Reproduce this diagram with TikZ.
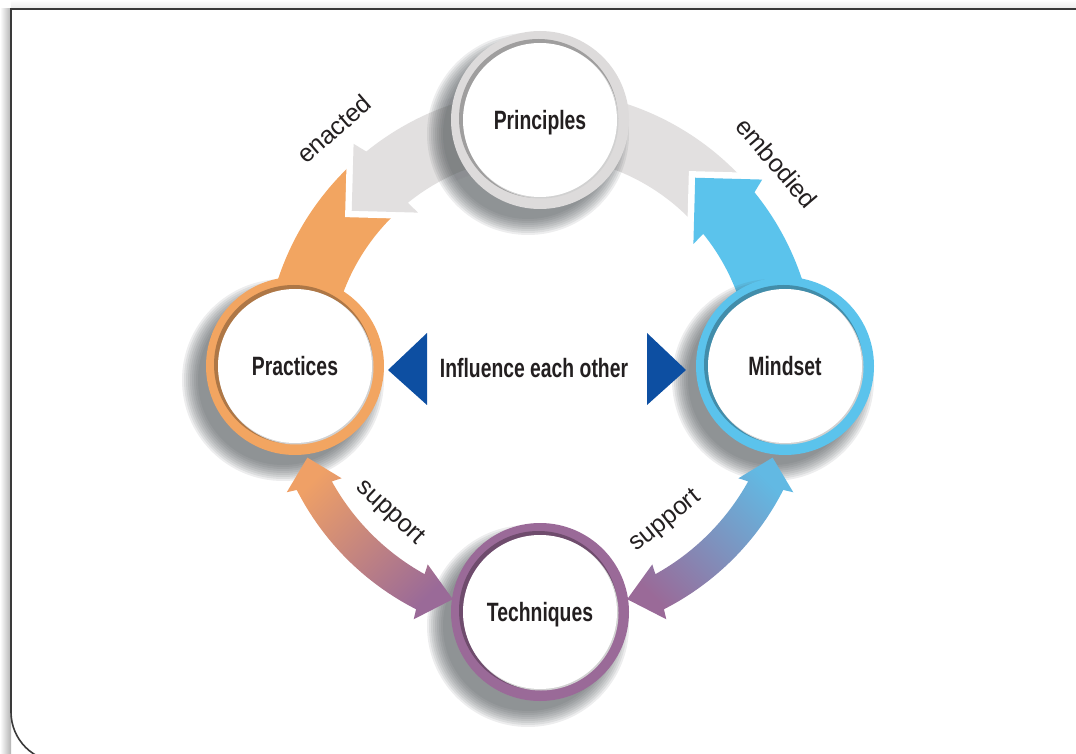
\documentclass[tikz,border=0pt]{standalone}
\usepackage{fontspec}
\newfontfamily\nodefont[FakeStretch=0.73]{Liberation Sans}
\newfontfamily\arcfont{Liberation Sans}

\definecolor{ringgrey}{HTML}{DDDBDB}
\definecolor{bandgrey}{HTML}{E2E0E0}
\definecolor{ringorange}{HTML}{F2A561}
\definecolor{ringblue}{HTML}{5BC3EC}
\definecolor{ringpurple}{HTML}{9A6A98}
\definecolor{supportorange}{HTML}{EFA066}
\definecolor{supportblue}{HTML}{62B9E3}
\definecolor{infblue}{HTML}{0D4FA2}
\definecolor{textdark}{HTML}{231F20}
\definecolor{shadowgrey}{HTML}{4A5054}
\definecolor{framegrey}{HTML}{3A3A3A}

\tikzset{
  ring/.style={circle, minimum size=178pt, inner sep=0pt, fill=#1,
    font=\nodefont\bfseries\fontsize{26.5}{30}\selectfont, text=textdark,
    text height=19pt, text depth=0pt,
    path picture={
      \fill[#1!72!black] ([shift={(-1.5pt,1.5pt)}]path picture bounding box.center) circle (79.5pt);
      \fill[black!18] ([shift={(1pt,-1pt)}]path picture bounding box.center) circle (77.5pt);
      \fill[white] (path picture bounding box.center) circle (77pt);
    }},
  arclabel/.style={font=\arcfont\fontsize{25}{30}\selectfont, text=textdark, inner sep=0pt},
  gap/.style={preaction={draw=white, line width=13pt}},
}

\begin{document}
\begin{tikzpicture}[x=1pt,y=1pt]
  \useasboundingbox (0,0) rectangle (1076,753);
  \clip (0,0) rectangle (1076,753);

  % frame
  \shade[left color=white, right color=black!30] (0,-9) rectangle (11,744);
  \shade[top color=white, bottom color=black!8] (11,744) rectangle (1076,753);
  \draw[framegrey, line width=1.6] (1080,744) -- (11,744) -- (11,41) arc[start angle=180, end angle=270, radius=50] -- (1080,-9);

  \begin{scope}[shift={(540,387)}]
    % cycle bands
    \fill[ringorange] (131:210) arc[start angle=131, end angle=180, radius=210] -- (180:276) arc[start angle=180, end angle=131, radius=276] -- cycle;
    \fill[bandgrey, gap] (41:210) arc[start angle=41, end angle=129, radius=210] -- (128.5:196) -- (140.5:244) -- (130:290) -- (129:276) arc[start angle=129, end angle=41, radius=276] -- cycle;
    \fill[ringblue, gap] (0:210) arc[start angle=0, end angle=39, radius=210] -- (38.5:196) -- (50.5:244) -- (40:290) -- (39:276) arc[start angle=39, end angle=0, radius=276] -- cycle;

    % shadows
    \foreach \x/\y in {0/246,-245/0,245/0,0/-246}
      \foreach \r in {85,87,...,101}
        \fill[shadowgrey, opacity=0.1] (\x-12,\y-14) circle (\r);

    % support arrows
    \shade[top color=supportorange, bottom color=ringpurple, shading angle=45]
      (201.5:250) -- (206.5:283) -- (207:273) arc[start angle=207, end angle=243, radius=273] -- (243.5:283) -- (249.5:249) -- (240.5:228) -- (241:238) arc[start angle=241, end angle=209, radius=238] -- (209.5:228) -- cycle;
    \shade[top color=supportblue, bottom color=ringpurple, shading angle=-45]
      (-21.5:250) -- (-26.5:283) -- (-27:273) arc[start angle=-27, end angle=-63, radius=273] -- (-63.5:283) -- (-69.5:249) -- (-60.5:228) -- (-61:238) arc[start angle=-61, end angle=-29, radius=238] -- (-29.5:228) -- cycle;

    % influence
    \fill[infblue] (-152,-4) -- (-113,33) -- (-113,-39) -- cycle;
    \fill[infblue] (146,-4) -- (107,33) -- (107,-39) -- cycle;
    \node[font=\nodefont\bfseries\fontsize{26.5}{30}\selectfont, text=textdark] (influence) at (-6,-2) {Influence each other};

    % circles
    \node[ring=ringgrey] (principles) at (0,246) {Principles};
    \node[ring=ringorange] (practices) at (-245,0) {Practices};
    \node[ring=ringblue] (mindset) at (245,0) {Mindset};
    \node[ring=ringpurple] (techniques) at (0,-246) {Techniques};

    % arc labels
    \node[arclabel, rotate=41] (enacted) at (131:314) {enacted};
    \node[arclabel, rotate=-49.4] (embodied) at (40.6:312) {embodied};
    \node[arclabel, rotate=-43] (supportl) at (224.4:210) {support};
    \node[arclabel, rotate=39] (supportr) at (-51:200) {support};
  \end{scope}
\end{tikzpicture}
\end{document}
